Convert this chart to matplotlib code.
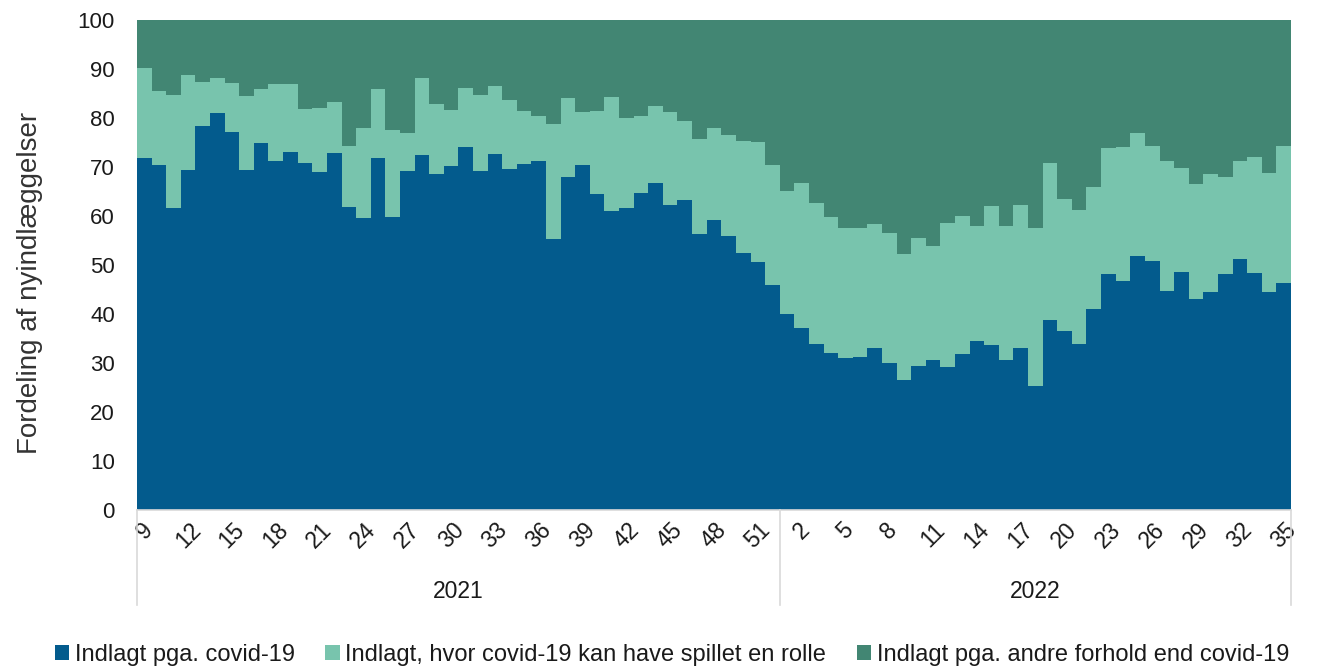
import matplotlib

matplotlib.use("Agg")

import matplotlib.pyplot as plt
import numpy as np
from matplotlib.patches import Patch

plt.rcParams["font.family"] = ["Liberation Sans", "DejaVu Sans"]

# Categories: ISO weeks, 2021 wk 9-52 and 2022 wk 1-35
weeks_2021 = list(range(9, 53))
weeks_2022 = list(range(1, 36))
years = ["2021", "2022"]

# Share of new admissions (%) per week
pct_covid = [
    71.8, 70.5, 61.6, 69.3, 78.3, 81.1, 77.1, 69.3, 74.8, 71.2,
    73.0, 70.9, 68.9, 72.8, 61.8, 59.6, 71.8, 59.8, 69.1, 72.4,
    68.6, 70.2, 74.1, 69.1, 72.6, 69.6, 70.7, 71.3, 55.4, 67.9,
    70.4, 64.4, 61.0, 61.7, 64.6, 66.7, 62.3, 63.3, 56.4, 59.2,
    56.0, 52.5, 50.7, 45.9,
    40.1, 37.2, 33.8, 32.1, 31.0, 31.3, 33.0, 30.0, 26.6, 29.3,
    30.6, 29.1, 31.9, 34.5, 33.7, 30.6, 33.0, 25.4, 38.8, 36.5,
    33.9, 41.1, 48.1, 46.8, 51.9, 50.9, 44.6, 48.5, 43.1, 44.4,
    48.2, 51.3, 48.4, 44.4, 46.3,
]
pct_role = [
    18.4, 15.1, 23.0, 19.4, 9.1, 7.0, 10.1, 15.1, 11.2, 15.8,
    13.9, 10.9, 13.1, 10.4, 12.5, 18.4, 14.1, 17.7, 7.8, 15.7,
    14.2, 11.5, 12.1, 15.5, 13.9, 14.0, 10.7, 9.2, 23.4, 16.1,
    10.8, 17.0, 23.2, 18.4, 15.9, 15.8, 18.9, 16.0, 19.4, 18.8,
    20.5, 22.9, 24.4, 24.6,
    25.0, 29.6, 28.8, 27.6, 26.6, 26.3, 25.4, 26.6, 25.7, 26.3,
    23.2, 29.5, 28.1, 23.5, 28.4, 27.4, 29.2, 32.1, 32.1, 26.9,
    27.4, 24.9, 25.7, 27.2, 25.0, 23.3, 26.6, 21.3, 23.4, 24.1,
    19.7, 20.0, 23.7, 24.4, 28.0,
]
pct_other = [
    9.8, 14.4, 15.4, 11.3, 12.6, 11.9, 12.8, 15.6, 14.0, 13.0,
    13.1, 18.2, 18.0, 16.8, 25.7, 22.0, 14.1, 22.5, 23.1, 11.9,
    17.2, 18.3, 13.8, 15.4, 13.5, 16.4, 18.6, 19.5, 21.2, 16.0,
    18.8, 18.6, 15.8, 19.9, 19.5, 17.5, 18.8, 20.7, 24.2, 22.0,
    23.5, 24.6, 24.9, 29.5,
    34.9, 33.2, 37.4, 40.3, 42.4, 42.4, 41.6, 43.4, 47.7, 44.4,
    46.2, 41.4, 40.0, 42.0, 37.9, 42.0, 37.8, 42.5, 29.1, 36.6,
    38.7, 34.0, 26.2, 26.0, 23.1, 25.8, 28.8, 30.2, 33.5, 31.5,
    32.1, 28.7, 27.9, 31.2, 25.7,
]

labels = [
    "Indlagt pga. covid-19",
    "Indlagt, hvor covid-19 kan have spillet en rolle",
    "Indlagt pga. andre forhold end covid-19",
]
colors = ["#035B8D", "#78C4AD", "#428673"]

weeks = weeks_2021 + weeks_2022
x = np.arange(len(weeks))
covid = np.array(pct_covid)
role = np.array(pct_role)
other = np.array(pct_other)

W, H = 1317, 667
fig = plt.figure(figsize=(W / 100, H / 100), dpi=100)
ax = fig.add_axes([137 / W, 1 - 510 / H, 1154 / W, 490 / H])

ax.bar(x, covid, width=1.0, color=colors[0], linewidth=0)
ax.bar(x, role, width=1.0, bottom=covid, color=colors[1], linewidth=0)
ax.bar(x, other, width=1.0, bottom=covid + role, color=colors[2], linewidth=0)

ax.set_xlim(-0.5, len(weeks) - 0.5)
ax.set_ylim(0, 100)
ax.set_yticks(range(0, 101, 10))
ax.tick_params(axis="y", length=0, pad=16, labelsize=16, labelcolor="#1a1a1a")

tick_idx = x[::3]
ax.set_xticks(tick_idx)
ax.set_xticklabels([str(weeks[i]) for i in tick_idx], rotation=45,
                   ha="center", va="top")
ax.tick_params(axis="x", length=0, pad=6, labelsize=16.5, labelcolor="#1a1a1a")

for s in ["top", "right", "left"]:
    ax.spines[s].set_visible(False)
ax.spines["bottom"].set_color("#D9D9D9")
ax.spines["bottom"].set_linewidth(1.2)

# Year group separators and labels
n21 = len(weeks_2021)
trans = ax.get_xaxis_transform()
for xb in [-0.5, n21 - 0.5, len(weeks) - 0.5]:
    ax.plot([xb, xb], [0, -95 / 490], transform=trans, color="#D9D9D9",
            lw=1.2, clip_on=False)
centers = [(n21 - 1) / 2, n21 + (len(weeks_2022) - 1) / 2]
for c, yr in zip(centers, years):
    ax.text(c, -81 / 490, yr, transform=trans, ha="center", va="center",
            fontsize=16.5, color="#1a1a1a")

fig.text(30 / W, 1 - 283 / H, "Fordeling af nyindlæggelser", rotation=90,
         ha="center", va="center", fontsize=20, color="#333333")

handles = [Patch(facecolor=c, edgecolor="none") for c in colors]
fig.legend(handles, labels, loc="center", bbox_to_anchor=(672 / W, 1 - 655 / H),
           ncol=3, frameon=False, fontsize=17, handlelength=0.6,
           handleheight=0.6, handletextpad=0.25, columnspacing=1.3,
           borderpad=0, labelcolor="#1a1a1a")

fig.savefig("out.png", dpi=100)
plt.close(fig)
